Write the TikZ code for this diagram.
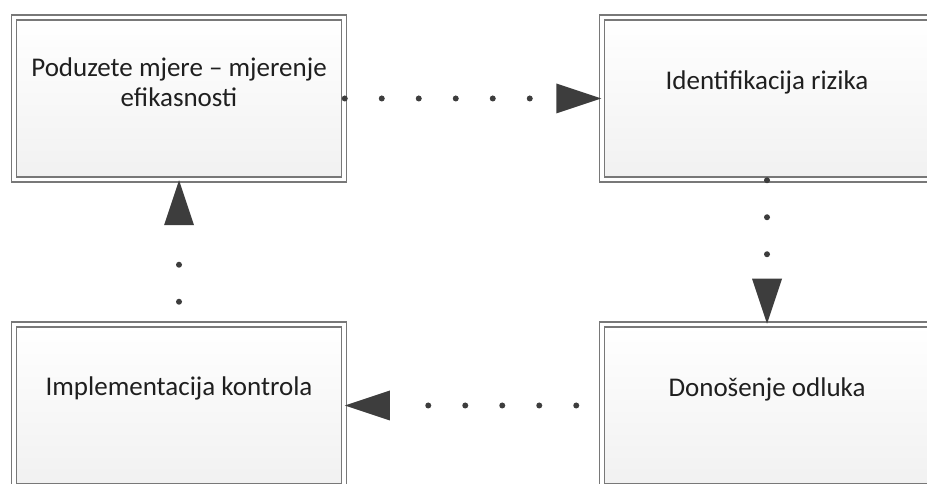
\documentclass[tikz,border=0pt]{standalone}
\usepackage{fontspec}
\setmainfont{Carlito}
\usetikzlibrary{arrows.meta,decorations.markings}
\definecolor{boxline}{rgb}{0.47,0.47,0.47}
\definecolor{boxlow}{rgb}{0.945,0.945,0.945}
\definecolor{flowcol}{rgb}{0.24,0.24,0.24}
\tikzset{
  stepbox/.style={rectangle,draw=boxline,line width=1.5bp,double=white,double distance=3.5bp,
    top color=white,bottom color=boxlow,minimum width=330bp,minimum height=162bp,inner sep=0pt},
  steptext/.style={align=center,text=black!88,font=\fontsize{27bp}{30bp}\selectfont},
  flow/.style={draw=flowcol,line width=6bp,line cap=round,dash pattern=on 0bp off 37bp,
    shorten >=50bp,
    postaction={decorate,decoration={markings,
      mark=at position 1 with {\pgfsetdash{}{0pt}\arrow[flowcol]{Triangle[length=45bp,width=30bp,line width=0pt]}}}}},
}
\begin{document}
\begin{tikzpicture}[x=1bp,y=1bp]
  \useasboundingbox (0bp,0bp) rectangle (927bp,484bp);
  \clip (0bp,0bp) rectangle (927bp,484bp);
%%
  % Node: Poduzete mjere -- mjerenje efikasnosti
  \node[stepbox] (mjere) at (179bp,385.5bp) {};
  \node[steptext] (mjeretxt) at (179bp,401.5bp) {Poduzete mjere – mjerenje\\efikasnosti};
  % Node: Identifikacija rizika
  \node[stepbox] (rizik) at (767bp,385.5bp) {};
  \node[steptext] (riziktxt) at (767bp,402bp) {Identifikacija rizika};
  % Node: Implementacija kontrola
  \node[stepbox] (kontrola) at (179bp,78.5bp) {};
  \node[steptext] (kontrolatxt) at (179bp,96bp) {Implementacija kontrola};
  % Node: Donosenje odluka
  \node[stepbox] (odluka) at (767bp,78.5bp) {};
  \node[steptext] (odlukatxt) at (767bp,95bp) {Donošenje odluka};
%
  % Edge: mjere -> rizik
  \draw [flow] (mjere.east) -- (rizik.west);
  % Edge: rizik -> odluka
  \draw [flow] (rizik.south) -- (odluka.north);
  % Edge: odluka -> kontrola
  \draw [flow,dash phase=12bp] (odluka.west) -- (kontrola.east);
  % Edge: kontrola -> mjere
  \draw [flow,dash phase=15bp] (kontrola.north) -- (mjere.south);
%
\end{tikzpicture}
\end{document}
